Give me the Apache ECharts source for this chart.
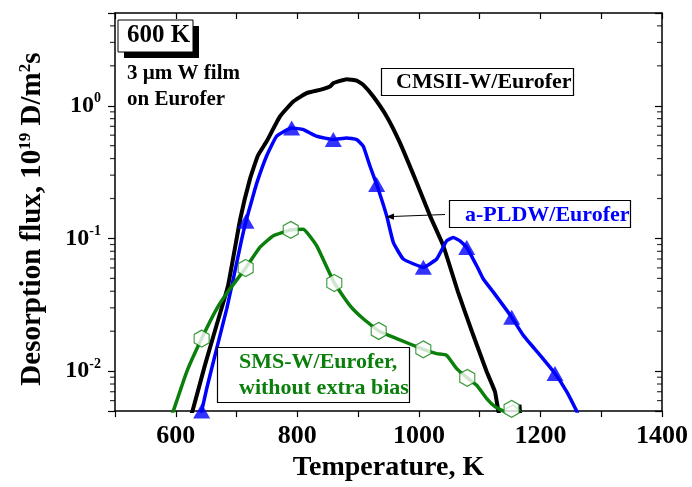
<!DOCTYPE html>
<html><head><meta charset="utf-8">
<script src="https://cdn.jsdelivr.net/npm/echarts@6/dist/echarts.min.js"></script>
<style>html,body{margin:0;padding:0;background:#fff}#c{width:692px;height:487px}</style>
</head><body><div id="c"></div>
<script>
// ---- data ----
const xTickLabels = [600, 800, 1000, 1200, 1400];
const yTickLabels = [0.01, 0.1, 1];
const yMinorTicks = [0.006,0.007,0.008,0.009,0.02,0.03,0.04,0.05,0.06,0.07,0.08,0.09,0.2,0.3,0.4,0.5,0.6,0.7,0.8,0.9,2,3,4];

// CMSII-W/Eurofer (black)
const blackT = [622,627.5,648,667,686,706,722,735,749.6,771.5,793.4,815.4,837.3,853.8,859.2,881.2,897.7,908.5,925,947,968.9,996.4,1018.3,1040.2,1064.3,1087.4,1111.6,1125.2,1130.7,1134];
const blackV = [0.0042,0.005,0.0111,0.0221,0.0441,0.1395,0.28,0.42,0.54,0.831,1.077,1.245,1.318,1.396,1.48,1.585,1.548,1.438,1.174,0.831,0.525,0.263,0.148,0.088,0.0396,0.0198,0.0099,0.0070,0.005,0.0045];
const blackTailT = [1165.5,1166.5];
const blackTailV = [0.0056,0.0048];

// a-PLDW/Eurofer (blue)
const blueT = [639,642.6,650.9,667.3,683.8,694.6,708.5,715.5,724.6,733.1,749.6,766,790.7,809.8,831.9,859.2,881.2,897.7,908.5,919.6,930.6,947,957.9,974.3,1007.3,1029.3,1045.7,1056.6,1067.6,1078.7,1095.1,1106,1122.5,1152.7,1171.8,1199.3,1223.9,1243.2,1259.6,1263];
const blueV = [0.0042,0.005,0.0074,0.0148,0.0295,0.0495,0.0989,0.135,0.19,0.26,0.42,0.59,0.680,0.661,0.589,0.556,0.572,0.556,0.495,0.350,0.255,0.148,0.0933,0.070,0.0606,0.070,0.096,0.1017,0.096,0.0856,0.0623,0.0495,0.0394,0.0255,0.0186,0.0132,0.0096,0.0070,0.005,0.0046];
const blueMarkT = [642.6,715.5,790.7,859.2,930.6,1007.3,1078.7,1152.7,1223.9];
const blueMarkV = [0.005,0.135,0.680,0.556,0.255,0.0606,0.0856,0.0255,0.0096];

// SMS-W/Eurofer, without extra bias (green)
const greenT = [592,595.9,618,642.6,667.3,689.2,715,738.6,760.5,789.1,809.8,831.9,860.8,886.6,908.5,933.9,963.5,1007.3,1029.3,1045.7,1062.2,1079.6,1095.1,1111.6,1125.2,1138.9,1142];
const greenV = [0.0044,0.005,0.00988,0.0176,0.0295,0.0417,0.0599,0.086,0.1047,0.116,0.1174,0.088,0.0462,0.0312,0.0248,0.0201,0.0176,0.0146,0.01355,0.01316,0.01045,0.0089,0.00783,0.00622,0.0054,0.005,0.0048];
const greenTailT = [1138.9,1146,1155,1160,1166,1170];
const greenTailV = [0.005,0.0053,0.00556,0.0053,0.00509,0.0049];
const greenMarkT = [642.6,715,789.1,860.8,933.9,1007.3,1079.6,1152.5];
const greenMarkV = [0.0176,0.0599,0.116,0.0462,0.0201,0.0146,0.0089,0.0052];

// ---- chart ----
const FONT = "'Liberation Serif','Times New Roman',serif";
const BLUE = '#0000ff';
const GREEN = '#0b7f0b';
const zip = (a, b) => a.map((v, i) => [v, b[i]]);
const HEX = 'path://M0,-10 L8.66,-5 L8.66,5 L0,10 L-8.66,5 L-8.66,-5 Z';

const isPow10 = v => yTickLabels.some(t => Math.abs(Math.log10(v) - Math.log10(t)) < 1e-6);

const chart = echarts.init(document.getElementById('c'), null, {renderer: 'canvas'});
const lineBase = {type: 'line', showSymbol: false, symbol: 'none', smooth: 0.12, clip: true};
const option = {
  animation: false,
  backgroundColor: '#fff',
  grid: {left: 115, right: 30, top: 13, bottom: 74},
  xAxis: [{
    type: 'value', min: 500, max: 1400, interval: 100,
    name: 'Temperature, K', nameLocation: 'middle', nameGap: 42,
    nameTextStyle: {fontFamily: FONT, fontWeight: 'bold', fontSize: 28, color: '#000'},
    axisLine: {lineStyle: {color: '#000', width: 1.5}},
    axisTick: {show: true, length: 6, lineStyle: {color: '#000', width: 1.2}},
    axisLabel: {margin: 12, fontFamily: FONT, fontWeight: 'bold', fontSize: 26, color: '#000',
      formatter: v => xTickLabels.includes(v) ? String(v) : ''},
    splitLine: {show: false}
  }, {
    type: 'value', position: 'top', min: 500, max: 1400, interval: 100,
    axisLine: {show: true, lineStyle: {color: '#000', width: 1.5}},
    axisTick: {show: true, inside: true, length: 6, lineStyle: {color: '#000', width: 1.2}},
    axisLabel: {show: false}, splitLine: {show: false}
  }],
  yAxis: [{
    type: 'log', logBase: 10, min: 0.005, max: 5,
    name: '{b|Desorption flux, 10}{s|19}{b| D/m}{s|2}{b|s}', nameLocation: 'middle', nameGap: 66, nameRotate: 90,
    nameTextStyle: {fontFamily: FONT, fontWeight: 'bold', color: '#000', padding: [0, 14, 0, 0],
      rich: {
        b: {fontFamily: FONT, fontWeight: 'bold', fontSize: 29, lineHeight: 32, color: '#000'},
        s: {fontFamily: FONT, fontWeight: 'bold', fontSize: 17, lineHeight: 18, verticalAlign: 'top', color: '#000'}
      }},
    axisLine: {show: true, lineStyle: {color: '#000', width: 1.5}},
    axisTick: {show: true, length: 7, lineStyle: {color: '#000', width: 1.2}},
    axisLabel: {margin: 14, fontFamily: FONT, fontWeight: 'bold', color: '#000',
      formatter: v => isPow10(v) ? '{b|10}{s|' + Math.round(Math.log10(v)) + '}' : '',
      rich: {
        b: {fontFamily: FONT, fontWeight: 'bold', fontSize: 24, lineHeight: 28, color: '#000'},
        s: {fontFamily: FONT, fontWeight: 'bold', fontSize: 14, lineHeight: 14, verticalAlign: 'top', color: '#000'}
      }},
    splitLine: {show: false}
  }, {
    type: 'log', logBase: 10, min: 0.005, max: 5, position: 'right',
    axisLine: {show: true, lineStyle: {color: '#000', width: 1.5}},
    axisTick: {show: true, inside: true, length: 7, lineStyle: {color: '#000', width: 1.2}},
    axisLabel: {show: false}, splitLine: {show: false}
  }],
  series: [
    {type: 'scatter', silent: true, clip: false, symbol: 'rect', symbolSize: [5, 1.2], symbolOffset: [-2.5, 0],
     itemStyle: {color: '#000'}, data: yMinorTicks.map(v => [500, v]), z: 1},
    {type: 'scatter', silent: true, clip: false, symbol: 'rect', symbolSize: [5, 1.2], symbolOffset: [-2.5, 0],
     itemStyle: {color: '#000'}, data: yMinorTicks.map(v => [1400, v]), z: 1},
    Object.assign({}, lineBase, {data: zip(blackT, blackV), lineStyle: {color: '#000', width: 4}, z: 3}),
    Object.assign({}, lineBase, {data: zip(blackTailT, blackTailV), smooth: false, lineStyle: {color: '#000', width: 4}, z: 3}),
    Object.assign({}, lineBase, {data: zip(blueT, blueV), lineStyle: {color: BLUE, width: 3.5}, z: 4}),
    {type: 'scatter', data: zip(blueMarkT, blueMarkV), symbol: 'triangle', symbolSize: [17, 15], clip: true,
     itemStyle: {color: BLUE}, z: 5},
    Object.assign({}, lineBase, {data: zip(greenT, greenV), lineStyle: {color: GREEN, width: 3.5}, z: 4}),
    Object.assign({}, lineBase, {data: zip(greenTailT, greenTailV), smooth: false, lineStyle: {color: GREEN, width: 1.2}, z: 4}),
    {type: 'scatter', data: zip(greenMarkT, greenMarkV), symbol: HEX, symbolSize: [15, 17], clip: false,
     itemStyle: {color: '#fff', borderColor: GREEN, borderWidth: 1.2}, z: 5}
  ],
  graphic: [
    // 600 K box with shadow
    {type: 'rect', shape: {x: 124, y: 26, width: 75, height: 32}, style: {fill: '#000'}, z: 10},
    {type: 'rect', shape: {x: 118, y: 20, width: 75, height: 32}, style: {fill: '#fff', stroke: '#000', lineWidth: 1}, z: 11},
    {type: 'text', x: 127, y: 36, style: {text: '600 K', fontFamily: FONT, fontWeight: 'bold', fontSize: 25, fill: '#000', verticalAlign: 'middle'}, z: 12},
    {type: 'text', x: 127, y: 74, style: {text: '3 \u00b5m W film', fontFamily: FONT, fontWeight: 'bold', fontSize: 21, fill: '#000', verticalAlign: 'middle'}, z: 12},
    {type: 'text', x: 127, y: 100, style: {text: 'on Eurofer', fontFamily: FONT, fontWeight: 'bold', fontSize: 21, fill: '#000', verticalAlign: 'middle'}, z: 12},
    // CMSII box
    {type: 'rect', shape: {x: 381.5, y: 68.5, width: 192, height: 27}, style: {fill: '#fff', stroke: '#000', lineWidth: 1.2}, z: 10},
    {type: 'text', x: 396, y: 82, style: {text: 'CMSII-W/Eurofer', fontFamily: FONT, fontWeight: 'bold', fontSize: 22, fill: '#000', verticalAlign: 'middle'}, z: 12},
    // a-PLDW box + arrow
    {type: 'rect', shape: {x: 449.5, y: 200.5, width: 181, height: 27}, style: {fill: '#fff', stroke: '#000', lineWidth: 1.2}, z: 10},
    {type: 'text', x: 465, y: 215, style: {text: 'a-PLDW/Eurofer', fontFamily: FONT, fontWeight: 'bold', fontSize: 22, fill: BLUE, verticalAlign: 'middle'}, z: 12},
    {type: 'line', shape: {x1: 445, y1: 214.5, x2: 392, y2: 216.5}, style: {stroke: '#000', lineWidth: 1}, z: 12},
    {type: 'polygon', shape: {points: [[386, 216.7], [394, 213.5], [394, 219.7]]}, style: {fill: '#000'}, z: 12},
    // SMS box
    {type: 'rect', shape: {x: 217.5, y: 347.5, width: 192, height: 55}, style: {fill: '#fff', stroke: '#000', lineWidth: 1.2}, z: 10},
    {type: 'text', x: 239, y: 362, style: {text: 'SMS-W/Eurofer,', fontFamily: FONT, fontWeight: 'bold', fontSize: 22, fill: GREEN, verticalAlign: 'middle'}, z: 12},
    {type: 'text', x: 239, y: 388, style: {text: 'without extra bias', fontFamily: FONT, fontWeight: 'bold', fontSize: 22, fill: GREEN, verticalAlign: 'middle'}, z: 12}
  ]
};
chart.setOption(option);
</script>
</body></html>
